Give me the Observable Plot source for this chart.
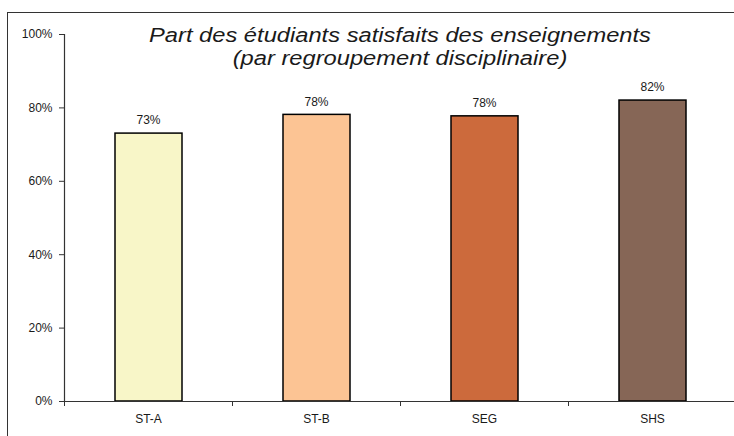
<!DOCTYPE html>
<html>
<head>
<meta charset="utf-8">
<script src="https://cdn.jsdelivr.net/npm/d3@7"></script>
<script src="https://cdn.jsdelivr.net/npm/@observablehq/plot@0.6"></script>
<style>
  html, body { margin: 0; padding: 0; background: #fff; overflow: hidden; }
  #wrap { position: relative; width: 734px; height: 436px; overflow: hidden; font-family: "Liberation Sans", Arial, sans-serif; }
  #border { position: absolute; left: 7px; top: 12px; width: 760px; height: 460px; border: 1.5px solid #333; box-sizing: border-box; }
  #title { position: absolute; left: 150px; width: 500px; top: 24px; text-align: center; font-style: italic; font-size: 20px; line-height: 22.6px; color: #1a1a1a; white-space: nowrap; transform: scaleX(1.185); transform-origin: 250px 0; }
  #chart { position: absolute; left: 0; top: 0; }
</style>
</head>
<body>
<div id="wrap">
  <div id="border"></div>
  <div id="chart"></div>
  <div id="title">Part des étudiants satisfaits des enseignements<br>(par regroupement disciplinaire)</div>
</div>
<script>
const categories = ["ST-A", "ST-B", "SEG", "SHS"];
const values = [73, 78.1, 77.7, 82];
const valueLabels = ["73%", "78%", "78%", "82%"];
const colors = ["#f8f6c8", "#fcc494", "#cc6a3c", "#866656"];
const yTicks = [0, 20, 40, 60, 80, 100];

const data = categories.map((c, i) => ({cat: c, i, v: values[i], label: valueLabels[i], color: colors[i]}));

const chart = Plot.plot({
  width: 734,
  height: 436,
  marginTop: 34,
  marginBottom: 35,
  marginLeft: 64,
  marginRight: 0,
  style: {fontFamily: "'Liberation Sans', Arial, sans-serif", fontSize: "12px", color: "#1a1a1a", background: "transparent", overflow: "visible"},
  x: {type: "linear", domain: [0, categories.length], range: [64, 736]},
  y: {domain: [0, 100], range: [401, 34]},
  marks: [
    Plot.rectY(data, {x1: d => d.i, x2: d => d.i + 1, y1: 0, y2: "v", fill: "color", stroke: "#000", strokeWidth: 1.5, insetLeft: 51, insetRight: 50}),
    Plot.text(data, {x: d => d.i + 0.5, y: "v", text: "label", dy: -13, fontSize: 12, fill: "#1a1a1a"}),
    Plot.ruleY([0], {stroke: "#333", strokeWidth: 1.2}),
    Plot.ruleX([0], {stroke: "#333", strokeWidth: 1.2}),
    Plot.axisY({ticks: yTicks, tickFormat: d => d + "%", tickSize: 5, tickPadding: 7, stroke: "#333", label: null, fontSize: 12}),
    Plot.axisX({ticks: d3.range(categories.length + 1), tickFormat: () => "", tickSize: 5, stroke: "#333", label: null}),
    Plot.axisX({ticks: categories.map((c, i) => i + 0.5), tickFormat: d => categories[Math.round(d - 0.5)], tickSize: 0, tickPadding: 13, label: null, fontSize: 12})
  ]
});
document.getElementById("chart").appendChild(chart);
</script>
</body>
</html>
